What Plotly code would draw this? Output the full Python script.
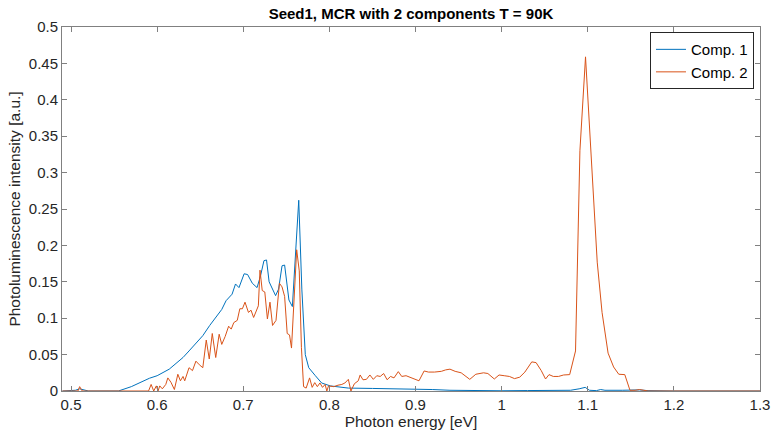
import plotly.graph_objects as go

# Comp. 1
energy_1 = [0.490, 0.505, 0.510, 0.515, 0.520, 0.555, 0.570, 0.591, 0.600, 0.614,
            0.630, 0.637, 0.645, 0.653, 0.661, 0.668, 0.675, 0.680, 0.687, 0.691,
            0.695, 0.701, 0.705, 0.7105, 0.716, 0.720, 0.724, 0.727, 0.730, 0.7375,
            0.741, 0.745, 0.748, 0.753, 0.757, 0.7644, 0.768, 0.772, 0.776, 0.7837,
            0.791, 0.801, 0.810, 0.822, 0.850, 0.880, 0.900, 0.920, 0.940, 0.960,
            0.980, 1.000, 1.030, 1.060, 1.080, 1.090, 1.097, 1.102, 1.110, 1.115,
            1.120, 1.140, 1.160, 1.170, 1.200, 1.300]
comp_1 = [0, 0.001, 0.003, 0.002, 0, 0, 0.006, 0.0175, 0.021, 0.030,
          0.046, 0.055, 0.066, 0.076, 0.090, 0.101, 0.112, 0.124, 0.133, 0.147,
          0.142, 0.161, 0.160, 0.148, 0.142, 0.158, 0.179, 0.180, 0.150, 0.131,
          0.140, 0.172, 0.173, 0.125, 0.116, 0.262, 0.140, 0.050, 0.032, 0.021,
          0.011, 0.007, 0.006, 0.004, 0.0035, 0.003, 0.0028, 0.002, 0.001, 0.0005,
          0.001, 0.0003, 0.0006, 0.001, 0.001, 0.003, 0.005, 0.001, 0.0005, 0.002,
          0.001, 0.001, 0.0015, 0.0005, 0, 0]

# Comp. 2
energy_2 = [0.490, 0.508, 0.510, 0.513, 0.590, 0.593, 0.596, 0.599, 0.601, 0.603,
            0.606, 0.610, 0.6124, 0.616, 0.620, 0.624, 0.627, 0.630, 0.632, 0.637,
            0.641, 0.645, 0.649, 0.653, 0.657, 0.6605, 0.664, 0.668, 0.672, 0.675,
            0.679, 0.683, 0.686, 0.689, 0.693, 0.696, 0.699, 0.702, 0.706, 0.709,
            0.712, 0.7175, 0.7194, 0.722, 0.725, 0.728, 0.731, 0.734, 0.738, 0.742,
            0.745, 0.748, 0.751, 0.7537, 0.756, 0.7595, 0.762, 0.765, 0.7675, 0.770,
            0.773, 0.777, 0.780, 0.783, 0.786, 0.789, 0.792, 0.795, 0.797, 0.799,
            0.805, 0.810, 0.8144, 0.818, 0.822, 0.825, 0.829, 0.8335, 0.8357, 0.839,
            0.843, 0.847, 0.851, 0.855, 0.859, 0.863, 0.867, 0.871, 0.875, 0.880,
            0.884, 0.889, 0.894, 0.899, 0.904, 0.910, 0.915, 0.922, 0.930, 0.935,
            0.940, 0.946, 0.953, 0.963, 0.970, 0.979, 0.984, 0.9915, 0.997, 1.003,
            1.009, 1.015, 1.021, 1.027, 1.031, 1.035, 1.040, 1.046, 1.051, 1.055,
            1.060, 1.066, 1.072, 1.079, 1.0858, 1.0909, 1.0974, 1.105, 1.111, 1.1166,
            1.1236, 1.130, 1.136, 1.143, 1.149, 1.155, 1.160, 1.165, 1.170, 1.300]
comp_2 = [0, 0, 0.006, 0, 0, 0.009, 0, 0.007, 0, 0.007,
          0.003, 0.009, 0.018, 0.012, 0.002, 0.023, 0.014, 0.020, 0.014, 0.032,
          0.028, 0.041, 0.036, 0.032, 0.070, 0.044, 0.079, 0.046, 0.078, 0.064,
          0.075, 0.089, 0.085, 0.094, 0.097, 0.113, 0.113, 0.122, 0.108, 0.111,
          0.101, 0.117, 0.166, 0.138, 0.136, 0.099, 0.122, 0.090, 0.097, 0.148,
          0.143, 0.130, 0.079, 0.077, 0.059, 0.148, 0.194, 0.165, 0.060, 0.006,
          0.004, 0.018, 0.005, 0.0115, 0.006, 0.011, 0.005, 0.009, 0.0, 0.007,
          0.006, 0.008, 0.009, 0.011, 0.016, 0.0, 0.010, 0.014, 0.022, 0.0154,
          0.016, 0.022, 0.016, 0.021, 0.020, 0.024, 0.0155, 0.020, 0.018, 0.0266,
          0.020, 0.021, 0.019, 0.0165, 0.014, 0.0275, 0.026, 0.026, 0.027, 0.029,
          0.030, 0.027, 0.025, 0.016, 0.023, 0.025, 0.024, 0.0165, 0.022, 0.021,
          0.020, 0.017, 0.019, 0.026, 0.033, 0.040, 0.039, 0.028, 0.0165, 0.0225,
          0.020, 0.020, 0.022, 0.0225, 0.055, 0.33, 0.459, 0.307, 0.177, 0.108,
          0.052, 0.033, 0.023, 0.0225, 0.001, 0.001, 0.002, 0.001, 0, 0]

x_ticks = [0.5, 0.6, 0.7, 0.8, 0.9, 1.0, 1.1, 1.2, 1.3]
x_labels = ["0.5", "0.6", "0.7", "0.8", "0.9", "1", "1.1", "1.2", "1.3"]
y_ticks = [0, 0.05, 0.1, 0.15, 0.2, 0.25, 0.3, 0.35, 0.4, 0.45, 0.5]
y_labels = ["0", "0.05", "0.1", "0.15", "0.2", "0.25", "0.3", "0.35", "0.4", "0.45", "0.5"]

fig = go.Figure()
fig.add_trace(go.Scatter(x=energy_1, y=comp_1, mode="lines", name="Comp. 1",
                         line=dict(color="#0072BD", width=1)))
fig.add_trace(go.Scatter(x=energy_2, y=comp_2, mode="lines", name="Comp. 2",
                         line=dict(color="#D95319", width=1)))

# оси в стиле MATLAB: рамка, тики внутрь со всех сторон
axis_style = dict(showline=True, linecolor="#808080", linewidth=1, mirror="allticks",
                  ticks="inside", ticklen=5, tickcolor="#808080", showgrid=False,
                  zeroline=False, tickfont=dict(size=15, color="#262626"),
                  ticklabeloverflow="allow")

fig.update_xaxes(range=[0.4895, 1.3], tickvals=x_ticks, ticktext=x_labels,
                 title=dict(text="Photon energy [eV]", font=dict(size=15.5, color="#262626"),
                            standoff=4),
                 **axis_style)
fig.update_yaxes(range=[0, 0.5], tickvals=y_ticks, ticktext=y_labels,
                 title=dict(text="Photoluminescence intensity [a.u.]",
                            font=dict(size=15.5, color="#262626"), standoff=4),
                 **axis_style)

fig.update_layout(
    width=771, height=441,
    margin=dict(l=62, r=11, t=27, b=50, autoexpand=False),
    paper_bgcolor="white", plot_bgcolor="white",
    font=dict(family="Arial, Liberation Sans, sans-serif", size=15, color="#262626"),
    title=dict(text="<b>Seed1, MCR with 2 components T = 90K</b>",
               x=0.5, xref="paper", xanchor="center", y=0.968, yanchor="middle",
               font=dict(size=15, color="#000000")),
    legend=dict(x=0.9914, y=0.986, xanchor="right", yanchor="top",
                bordercolor="#262626", borderwidth=1, bgcolor="white",
                font=dict(size=15, color="#000000"), itemwidth=30,
                tracegroupgap=0),
    showlegend=True,
)

fig.write_html("out.html", config={"displayModeBar": False},
               post_script="document.body.style.margin='0';")
